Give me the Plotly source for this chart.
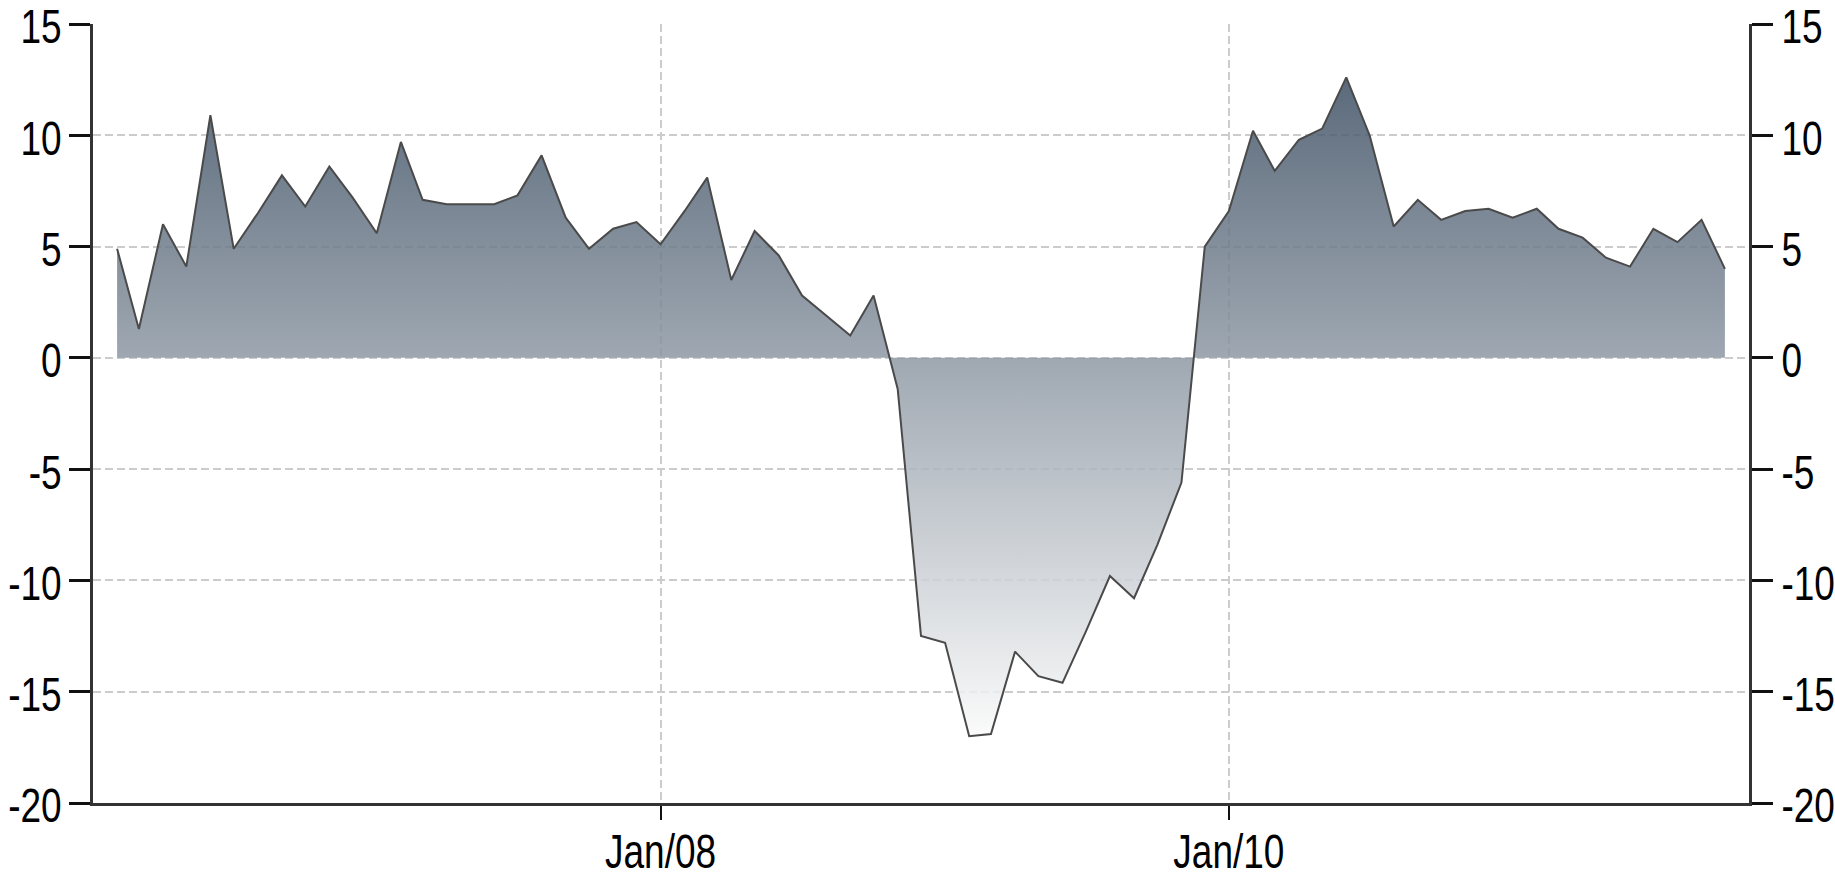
import pandas as pd
import plotly.graph_objects as go

# ---- data ----
start_month = "2006-02-01"
values_2006 = [4.9, 1.3, 6.0, 4.1, 10.9, 4.9, 6.5, 8.2, 6.8, 8.6, 7.2]
values_2007 = [5.6, 9.7, 7.1, 6.9, 6.9, 6.9, 7.3, 9.1, 6.3, 4.9, 5.8, 6.1]
values_2008 = [5.1, 6.6, 8.1, 3.5, 5.7, 4.6, 2.8, 1.9, 1.0, 2.8, -1.4, -12.5]
values_2009 = [-12.8, -17.0, -16.9, -13.2, -14.3, -14.6, -12.3, -9.8, -10.8, -8.4, -5.6, 5.0]
values_2010 = [6.6, 10.2, 8.4, 9.8, 10.3, 12.6, 10.0, 5.9, 7.1, 6.2, 6.6, 6.7]
values_2011 = [6.3, 6.7, 5.8, 5.4, 4.5, 4.1, 5.8, 5.2, 6.2, 4.0]

values = values_2006 + values_2007 + values_2008 + values_2009 + values_2010 + values_2011
dates = pd.date_range(start_month, periods=len(values), freq="MS")

x_tick_vals = ["2008-01-01", "2010-01-01"]
x_tick_text = ["Jan/08", "Jan/10"]
y_tick_vals = [15, 10, 5, 0, -5, -10, -15, -20]
y_tick_text = ["15", "10", "5", "0", "-5", "-10", "-15", "-20"]

# ---- styling ----
FONT = "Liberation Sans, Arial, sans-serif"
FONT_SIZE = 37
GRID = dict(showgrid=True, gridcolor="#cccccc", gridwidth=2, griddash="8px,4px")

fig = go.Figure()
fig.add_trace(go.Scatter(
    x=dates, y=values, mode="lines",
    line=dict(color="#4a4a4a", width=2),
    fill="tozeroy",
    fillgradient=dict(
        type="vertical",
        start=min(values), stop=max(values),
        colorscale=[[0, "rgba(250,250,250,0.85)"], [1, "rgba(62,80,100,0.85)"]],
    ),
    hoverinfo="skip", showlegend=False,
))
# invisible twin trace so the right-hand axis is drawn
fig.add_trace(go.Scatter(
    x=dates, y=values, mode="lines", line=dict(width=0, color="rgba(0,0,0,0)"),
    yaxis="y2", hoverinfo="skip", showlegend=False,
))

yaxis_common = dict(
    range=[-20, 15], tickvals=y_tick_vals, ticktext=y_tick_text,
    ticks="outside", ticklen=21, tickwidth=3, tickcolor="#111111",
    showline=True, linewidth=3, linecolor="#333333",
    zeroline=False, automargin=False, ticklabeloverflow="allow",
    tickfont=dict(family=FONT, size=FONT_SIZE, color="#000000"),
    fixedrange=True,
)

fig.update_layout(
    width=1835, height=878,
    margin=dict(l=93, r=86, t=24, b=75, autoexpand=False),
    paper_bgcolor="white", plot_bgcolor="white",
    xaxis=dict(
        type="date", range=["2006-01-01", "2011-11-01"],
        tickvals=x_tick_vals, ticktext=x_tick_text,
        ticks="outside", ticklen=14, tickwidth=2, tickcolor="#111111",
        showline=True, linewidth=3, linecolor="#333333",
        zeroline=False, automargin=False, ticklabeloverflow="allow",
        tickfont=dict(family=FONT, size=FONT_SIZE, color="#000000"),
        **GRID,
    ),
    yaxis=dict(side="left", ticklabelstandoff=0, **yaxis_common, **GRID),
    yaxis2=dict(side="right", overlaying="y", showgrid=False, ticklabelstandoff=1,
                **yaxis_common),
)

# the reference's tick lettering is tall and narrow: stretch the real text
# vertically about its own centre (y labels also sit a touch below their ticks)
STRETCH_JS = """
var gd = document.getElementById('{plot_id}');
gd.querySelectorAll('.xtick text, .ytick text, .y2tick text').forEach(function(t){
  var b = t.getBBox();
  var cy = b.y + b.height / 2;
  var isY = !t.closest('.xtick');
  var dy = isY ? 3 : 0;
  var tr = t.getAttribute('transform') || '';
  t.setAttribute('transform', tr + ' translate(0,' + (cy + dy) + ') scale(1,1.28) translate(0,' + (-cy) + ')');
});
document.body.style.margin = '0';
document.body.style.overflow = 'hidden';
"""

fig.write_html(
    "out.html",
    config={"displayModeBar": False, "staticPlot": True},
    post_script=STRETCH_JS,
)
